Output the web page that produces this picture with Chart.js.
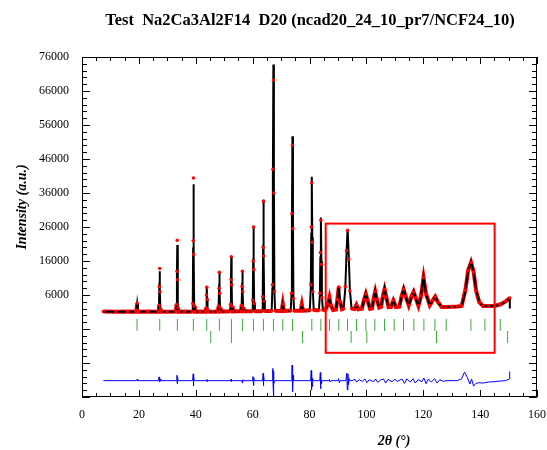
<!DOCTYPE html>
<html>
<head>
<meta charset="utf-8">
<script src="https://cdn.jsdelivr.net/npm/chart.js@4.4.0/dist/chart.umd.min.js"></script>
<style>
  body { margin: 0; background: #fff; }
  canvas { display: block; }
</style>
</head>
<body>
<canvas id="grafico" width="547" height="450"></canvas>
<script>
// Rietveld plot - Na2Ca3Al2F14 (D20)

const tituloGrafico = "Test  Na2Ca3Al2F14  D20 (ncad20_24_10_pr7/NCF24_10)";
const tituloY = "Intensity (a.u.)";
const tituloX = "2\u03b8 (\u00b0)";

// calculated profile [2theta, intensity]
const perfilCalc = [
  [7.5,1100],[18.9,1100],[19.15,1500],[19.4,3500],[19.65,1500],[19.9,1150],
  [26.8,1100],[27.05,2500],[27.18,8000],[27.3,13000],[27.42,7500],[27.55,2200],[27.8,1150],
  [33.0,1100],[33.25,2500],[33.38,12000],[33.5,20700],[33.62,11000],[33.75,2500],[34.0,1150],
  [38.7,1100],[38.95,3000],[39.08,20000],[39.2,38600],[39.32,19000],[39.45,3000],[39.7,1150],
  [43.4,1100],[43.65,2000],[43.78,5500],[43.9,8600],[44.02,5000],[44.15,1800],[44.4,1100],
  [47.8,1150],[48.05,2500],[48.18,7500],[48.3,12600],[48.42,7000],[48.55,2300],[48.8,1150],
  [52.0,1150],[52.25,3000],[52.38,10000],[52.5,17200],[52.62,9500],[52.75,2800],[53.0,1150],
  [55.9,1200],[56.15,2800],[56.28,8000],[56.4,13300],[56.52,7500],[56.65,2500],[56.9,1200],
  [59.8,1200],[60.05,4000],[60.18,15000],[60.3,26300],[60.42,14500],[60.55,3800],[60.8,1200],
  [63.3,1250],[63.55,5000],[63.68,19000],[63.8,34100],[63.92,18500],[64.05,4500],[64.3,1250],
  [66.7,1300],[66.95,8000],[67.12,40000],[67.3,73800],[67.48,39000],[67.65,7500],[67.9,1400],
  [70.2,1300],[70.6,3200],[71.0,1300],
  [73.4,1350],[73.65,6000],[73.82,28000],[74.0,52700],[74.18,27000],[74.35,5500],[74.6,1400],
  [76.9,1400],[77.3,3000],[77.7,1400],
  [80.1,1450],[80.45,8000],[80.62,24000],[80.8,40800],[80.98,23000],[81.15,7500],[81.5,1550],
  [83.3,1500],[83.65,6000],[83.82,17000],[84.0,28800],[84.18,16000],[84.35,5500],[84.7,1600],
  [85.6,1600],[86.5,3200],[87.0,5000],[87.5,3000],[88.3,1600],
  [89.3,1700],[89.8,4500],[90.3,8600],[90.8,4300],[91.4,1800],
  [92.0,1900],[92.6,8000],[93.0,18000],[93.4,25500],[93.8,17500],[94.2,7500],[94.8,2000],
  [95.8,1800],[96.5,3000],[97.2,1800],
  [98.4,1900],[99.2,4500],[99.8,6500],[100.4,4300],[101.3,1900],
  [102.0,2000],[102.5,4500],[103.1,7200],[103.7,4500],[104.5,2300],
  [105.2,2500],[105.8,5500],[106.4,8000],[107.0,5200],[107.8,2400],
  [108.6,2400],[109.5,4500],[110.4,2400],
  [111.6,2500],[112.4,5500],[113.1,8000],[113.8,5500],[114.9,3000],
  [115.9,5500],[116.6,7200],[117.3,5000],[118.3,2800],
  [119.2,5500],[120.1,11400],[121.0,6000],[122.3,3000],
  [123.3,4200],[124.2,5700],[125.2,3800],[126.5,2500],
  [130.0,2500],[133.5,2700],[134.8,7000],[135.8,13000],[136.8,15800],[137.7,13000],
  [138.6,7500],[139.7,4000],[141.0,2800],[145.0,2800],[147.0,3100],[149.0,4000],
  [150.4,5000],[150.45,2000]
];

// observed points [2theta, intensity]
const perfilObs = [
  [7.5,1150],[12,1100],[16,1150],[18.9,1100],[19.15,1600],[19.4,3600],[19.65,1400],[19.9,1100],
  [23,1150],[26.8,1100],[27.05,3000],[27.18,8500],[27.3,13800],[27.42,7000],[27.55,2000],[27.8,1150],
  [30,1100],[33.0,1150],[33.25,3200],[33.38,13000],[33.5,22100],[33.62,10500],[33.75,2200],[34.0,1100],
  [36,1150],[38.7,1100],[38.95,3500],[39.08,22000],[39.2,40400],[39.32,18000],[39.45,2800],[39.7,1100],
  [41.5,1150],[43.4,1100],[43.65,2200],[43.78,6000],[43.9,8300],[44.02,4700],[44.15,1700],[44.4,1150],
  [46,1100],[47.8,1150],[48.05,2800],[48.18,8000],[48.3,12700],[48.42,6500],[48.55,2200],[48.8,1150],
  [50.5,1150],[52.0,1200],[52.25,3300],[52.38,10500],[52.5,17300],[52.62,9000],[52.75,2600],[53.0,1150],
  [54.5,1200],[55.9,1200],[56.15,3000],[56.28,8500],[56.4,13000],[56.52,7000],[56.65,2300],[56.9,1200],
  [58.4,1200],[59.8,1250],[60.05,4500],[60.18,16000],[60.3,26000],[60.42,13500],[60.55,3500],[60.8,1200],
  [62,1250],[63.3,1250],[63.55,5500],[63.68,20000],[63.8,33500],[63.92,17500],[64.05,4200],[64.3,1300],
  [65.5,1300],[66.7,1300],[66.95,9000],[67.12,43000],[67.3,69200],[67.48,36000],[67.65,7000],[67.9,1350],
  [69,1300],[70.2,1350],[70.6,3400],[71.0,1300],[72,1350],
  [73.4,1400],[73.65,6500],[73.82,30000],[74.0,50000],[74.18,25500],[74.35,5000],[74.6,1400],
  [75.8,1400],[76.9,1450],[77.3,3200],[77.7,1400],[79,1450],
  [80.1,1500],[80.45,9000],[80.62,26000],[80.8,39000],[80.98,21500],[81.15,7000],[81.5,1600],
  [82.4,1550],[83.3,1550],[83.65,6500],[83.82,18500],[84.0,28000],[84.18,15000],[84.35,5200],[84.7,1600],
  [85.6,1650],[86.5,3400],[87.0,5200],[87.5,2900],[88.3,1600],
  [89.3,1750],[89.8,4700],[90.3,8400],[90.8,4100],[91.4,1800],
  [92.0,1950],[92.6,8500],[93.0,19000],[93.4,25000],[93.8,16500],[94.2,7200],[94.8,2000],
  [95.8,1850],[96.5,3100],[97.2,1800],
  [98.4,1950],[99.2,4700],[99.8,6300],[100.4,4500],[101.3,1900],
  [102.0,2050],[102.5,4700],[103.1,7000],[103.7,4700],[104.5,2300],
  [105.2,2550],[105.8,5700],[106.4,7700],[107.0,5400],[107.8,2400],
  [108.6,2450],[109.5,4400],[110.4,2450],
  [111.6,2550],[112.4,5700],[113.1,7600],[113.8,5700],[114.9,3000],
  [115.9,5700],[116.6,6900],[117.3,5200],[118.3,2800],
  [119.2,5700],[120.1,11100],[121.0,6300],[122.3,3000],
  [123.3,4400],[124.2,5500],[125.2,3900],[126.5,2500],
  [128.0,2500],[130.0,2550],[132.0,2600],[133.5,2750],[134.8,7400],[135.8,13300],[136.8,15600],
  [137.7,12800],[138.6,7200],[139.7,3900],[141.0,2750],[143.0,2800],[145.0,2750],[147.0,3200],
  [149.0,4100],[150.4,5100]
];

// difference Yobs - Ycalc [2theta, intensity]
const perfilDif = [
  [7.5,0],[19.2,0],[19.4,400],[19.6,0],
  [26.9,0],[27.1,1100],[27.3,-300],[27.5,400],[27.7,0],
  [33.2,0],[33.4,1600],[33.5,-900],[33.6,1000],[33.8,0],
  [38.9,0],[39.1,2000],[39.2,-1500],[39.3,1200],[39.5,0],
  [43.8,0],[43.9,400],[44.0,-300],[44.1,0],
  [52.3,0],[52.4,400],[52.5,-300],[52.6,0],
  [56.2,0],[56.3,-400],[56.4,300],[56.5,-700],[56.6,0],
  [59.9,0],[60.1,1200],[60.3,-1400],[60.4,900],[60.6,0],
  [63.5,0],[63.7,2200],[63.8,-1500],[63.9,1500],[64.1,0],
  [66.9,0],[67.1,3600],[67.2,-1500],[67.3,-5000],[67.4,2800],[67.5,-900],[67.7,0],
  [73.6,0],[73.8,1800],[73.9,4600],[74.0,-1200],[74.1,-3200],[74.2,1600],[74.4,0],
  [80.4,0],[80.6,3000],[80.7,-2700],[80.8,2000],[80.9,-1700],[81.1,700],[81.3,0],
  [83.6,0],[83.8,2400],[83.9,-2400],[84.0,1300],[84.2,-900],[84.4,0],
  [86.8,0],[87.0,400],[87.3,-400],[87.6,0],
  [90.0,0],[90.2,600],[90.5,-600],[90.8,0],
  [92.8,0],[93.1,2200],[93.3,-2700],[93.5,2000],[93.7,-1200],[94.0,600],[94.3,0],
  [95,0],[96,400],[96.6,-400],[97.5,300],[98.5,-200],[99.5,500],[100.2,-600],[101,300],
  [102.5,-300],[103.2,500],[104,-500],[105,200],[106,500],[106.8,-700],[107.6,400],
  [109,-300],[110,400],[111,-200],[112.5,500],[113.4,-800],[114.2,500],[115.5,-400],
  [116.4,600],[117.2,-700],[118.2,300],[119.5,-300],[120.2,800],[121,-900],[121.8,500],
  [122.8,-400],[124,600],[124.8,-700],[125.8,300],[127,-200],[128,0],
  [132,0],[133.5,600],[134.5,2500],[135.5,1000],[136.4,-1000],[137.0,500],[137.7,-1600],
  [138.5,-800],[139.5,-600],[141,-700],[143,-400],[145,-300],[147,-100],[149,0],
  [150.3,500],[150.4,2700]
];

// Bragg reflections (2theta)
const reflexoesFase1 = [19.35, 27.33, 33.54, 39.17, 43.87, 48.32, 52.55, 56.41, 60.29, 63.80,
  67.32, 70.61, 74.01, 80.81, 83.98, 87.03, 90.31, 93.36, 96.53, 99.81, 102.98, 106.38,
  109.78, 113.06, 116.70, 120.22, 124.09, 128.08, 136.76, 141.68, 147.08];
const reflexoesFase2 = [45.27, 52.55, 77.53, 94.65, 100.16, 124.67, 149.66];

// levels of the lower part
const nivelDif = -19200;
const nivelFase1 = -2800;
const nivelFase2 = -6350;

// highlighted zone [x1, x2, y1, y2]
const zonaDestaque = [85.7, 145.1, 27000, -11000];

const fonteSerif = '"Times New Roman", "Liberation Serif", serif';

// Axes with inward ticks on the four sides, titles and the box
const eixosPlugin = {
  id: "eixos",
  afterDatasetsDraw(chart) {
    const { ctx, chartArea: a, scales: { x, y } } = chart;
    ctx.save();

    // red box
    ctx.strokeStyle = "#ff0000";
    ctx.lineWidth = 2;
    const bx1 = x.getPixelForValue(zonaDestaque[0]);
    const bx2 = x.getPixelForValue(zonaDestaque[1]);
    const by1 = y.getPixelForValue(zonaDestaque[2]);
    const by2 = y.getPixelForValue(zonaDestaque[3]);
    ctx.strokeRect(bx1, by1, bx2 - bx1, by2 - by1);

    // frame
    ctx.strokeStyle = "#000";
    ctx.lineWidth = 1;
    ctx.strokeRect(a.left + 0.5, a.top + 0.5, a.right - a.left - 1, a.bottom - a.top - 1);

    ctx.beginPath();
    for (let v = 0; v <= 160; v += 5) {
      const px = Math.round(x.getPixelForValue(v)) + 0.5;
      const len = v % 20 === 0 ? 7 : 4;
      ctx.moveTo(px, a.bottom); ctx.lineTo(px, a.bottom - len);
      ctx.moveTo(px, a.top); ctx.lineTo(px, a.top + len);
    }
    for (let v = -24000; v <= 76000; v += 2000) {
      const py = Math.round(y.getPixelForValue(v)) + 0.5;
      const len = (v - 6000) % 10000 === 0 ? 8 : 5;
      ctx.moveTo(a.left, py); ctx.lineTo(a.left + len, py);
      ctx.moveTo(a.right, py); ctx.lineTo(a.right - len, py);
    }
    ctx.stroke();

    // titles
    ctx.fillStyle = "#000";
    ctx.textAlign = "center";
    ctx.textBaseline = "alphabetic";
    ctx.font = "bold 16.5px " + fonteSerif;
    ctx.fillText(tituloGrafico, 310, 25);

    ctx.font = "italic bold 14px " + fonteSerif;
    ctx.textBaseline = "middle";
    ctx.fillText(tituloX, 394, 441);

    ctx.translate(22, 207);
    ctx.rotate(-Math.PI / 2);
    ctx.fillText(tituloY, 0, 0);
    ctx.restore();
  }
};

const paraPontos = lista => lista.map(p => ({ x: p[0], y: p[1] }));

new Chart(document.getElementById("grafico"), {
  type: "scatter",
  data: {
    datasets: [
      {
        // observed dots, on top
        data: paraPontos(perfilObs),
        showLine: false,
        pointRadius: 1.7,
        pointBackgroundColor: "#ff0000",
        pointBorderWidth: 0,
        order: 0
      },
      {
        data: paraPontos(perfilCalc),
        showLine: true,
        borderColor: "#000",
        borderWidth: 2,
        pointRadius: 0,
        order: 1
      },
      {
        // observed as a thick band where the profile is flat
        data: paraPontos(perfilObs),
        showLine: true,
        borderColor: "#ff0000",
        borderWidth: 4,
        pointRadius: 0,
        segment: {
          borderColor: c => {
            const dx = Math.abs(c.p1.x - c.p0.x) || 0.01;
            const dy = Math.abs(c.p1.y - c.p0.y);
            return dy / dx > 10 ? "transparent" : "#ff0000";
          }
        },
        order: 2
      },
      {
        data: perfilDif.map(p => ({ x: p[0], y: p[1] + nivelDif })),
        showLine: true,
        borderColor: "#0000ff",
        borderWidth: 1,
        pointRadius: 0,
        order: 3
      },
      {
        data: reflexoesFase1.map(t => ({ x: t, y: nivelFase1 })),
        pointStyle: "line",
        rotation: 90,
        pointRadius: 6,
        borderColor: "#3caa3c",
        borderWidth: 1,
        order: 4
      },
      {
        data: reflexoesFase2.map(t => ({ x: t, y: nivelFase2 })),
        pointStyle: "line",
        rotation: 90,
        pointRadius: 6,
        borderColor: "#3caa3c",
        borderWidth: 1,
        order: 5
      }
    ]
  },
  options: {
    responsive: false,
    animation: false,
    layout: { padding: { top: 57, right: 10, bottom: 0, left: 0 } },
    plugins: { legend: { display: false }, tooltip: { enabled: false } },
    scales: {
      x: {
        type: "linear",
        min: 0,
        max: 160,
        grid: { display: false, drawTicks: false },
        border: { display: false },
        ticks: { stepSize: 20, padding: 11, color: "#000", font: { family: fonteSerif, size: 12 } },
        afterFit: s => { s.height = 53; s.paddingLeft = 0; s.paddingRight = 0; }
      },
      y: {
        min: -24000,
        max: 76000,
        grid: { display: false, drawTicks: false },
        border: { display: false },
        ticks: {
          stepSize: 10000,
          padding: 13,
          color: "#000",
          font: { family: fonteSerif, size: 12 },
          callback: v => (v >= 6000 ? String(v) : "")
        },
        afterFit: s => { s.width = 82; s.paddingTop = 0; s.paddingBottom = 0; }
      }
    }
  },
  plugins: [eixosPlugin]
});
</script>
</body>
</html>
